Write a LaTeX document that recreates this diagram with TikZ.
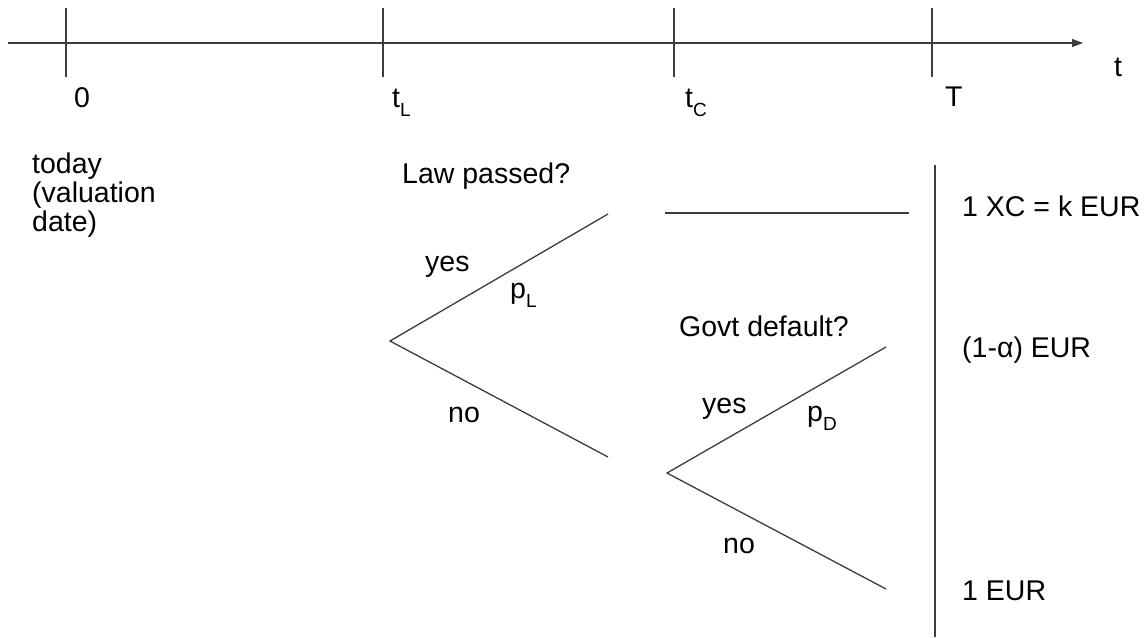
\documentclass[tikz,border=0pt]{standalone}
\usepackage{fontspec}
\setmainfont{Liberation Sans}
\usetikzlibrary{arrows.meta}
\definecolor{ln}{RGB}{60,60,60}
\newcommand\lowsub[1]{\raisebox{-0.32em}{\fontsize{19}{20}\selectfont #1}}
\tikzset{
  lbl/.style={anchor=base west, inner sep=0pt, font=\fontsize{28.5}{29}\selectfont},
  ln/.style={draw=ln, line width=1.3pt},
}
\begin{document}
\begin{tikzpicture}[x=1pt,y=-1pt]
\useasboundingbox (0,0) rectangle (1145,637);
% timeline
\coordinate (ts) at (8,43);
\coordinate (te) at (1083,43);
\draw[ln, -{Triangle[length=11pt,width=8pt]}] (ts) -- (te);
\foreach \n/\x in {z/66, l/383, c/674, T/932}{
  \coordinate (\n a) at (\x,8);
  \coordinate (\n b) at (\x,77);
  \draw[ln] (\n a) -- (\n b);
}
\node[lbl] (l0) at (74,107) {0};
\node[lbl] (lL) at (392,107) {t\lowsub{L}};
\node[lbl] (lC) at (685,107) {t\lowsub{C}};
\node[lbl] (lT) at (945,106) {T};
\node[lbl] (lt) at (1114,76) {t};
% today
\node[anchor=north west, inner sep=0pt, align=left, font=\fontsize{28.5}{29}\selectfont] (today) at (32,153) {today\\(valuation\\date)};
% tree 1
\node[lbl] (law) at (402,183) {Law passed?};
\coordinate (a1) at (390,341);
\coordinate (u1) at (608,214);
\coordinate (d1) at (608,457);
\draw[ln] (u1) -- (a1) -- (d1);
\node[lbl] (yes1) at (425,271) {yes};
\node[lbl] (pL) at (510,298) {p\lowsub{L}};
\node[lbl] (no1) at (448,422) {no};
% horizontal outcome line
\coordinate (h1) at (665,213);
\coordinate (h2) at (909,213);
\draw[ln] (h1) -- (h2);
% tree 2
\node[lbl] (govt) at (679,336) {Govt default?};
\coordinate (a2) at (667,473);
\coordinate (u2) at (886,347);
\coordinate (d2) at (886,589);
\draw[ln] (u2) -- (a2) -- (d2);
\node[lbl] (yes2) at (702,413) {yes};
\node[lbl] (pD) at (807,421) {p\lowsub{D}};
\node[lbl] (no2) at (723,553) {no};
% vertical separator
\coordinate (v1) at (935,165);
\coordinate (v2) at (935,637);
\draw[ln] (v1) -- (v2);
% payoffs
\node[lbl] (pay1) at (962,216) {1 XC = k EUR};
\node[lbl] (pay2) at (962,357) {(1-α) EUR};
\node[lbl] (pay3) at (962,600) {1 EUR};
\end{tikzpicture}
\end{document}
